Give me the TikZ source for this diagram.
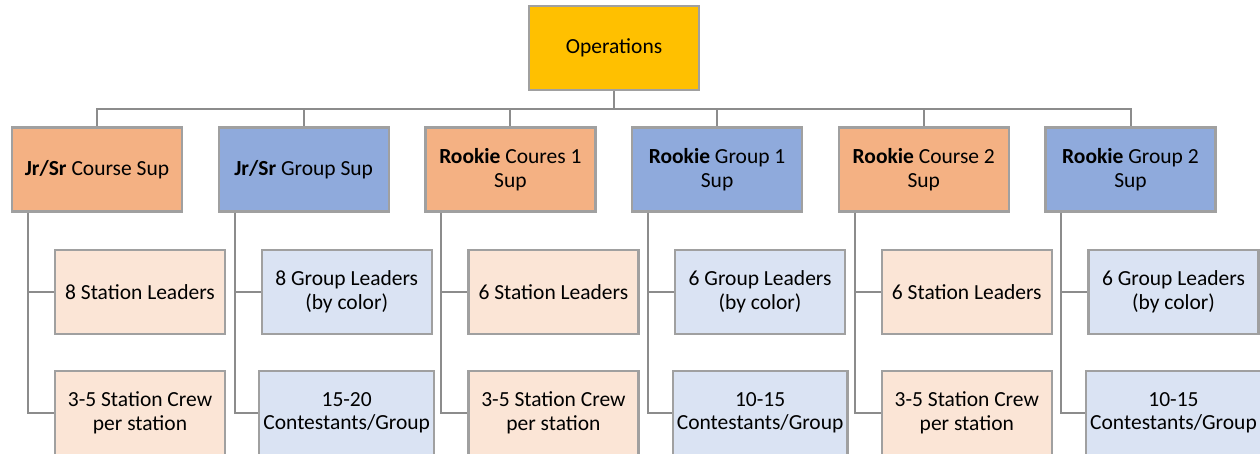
\documentclass[tikz,border=0pt]{standalone}
\usepackage{fontspec}
\setmainfont{Carlito}
\usetikzlibrary{positioning}

\definecolor{opsgold}{HTML}{FFC000}
\definecolor{courseor}{HTML}{F4B183}
\definecolor{groupbl}{HTML}{8FAADC}
\definecolor{courselt}{HTML}{FBE5D6}
\definecolor{grouplt}{HTML}{DAE3F3}
\definecolor{boxedge}{HTML}{A0A0A0}
\definecolor{linkgray}{HTML}{8C8C8C}

\begin{document}
\begin{tikzpicture}[
    font=\fontsize{10.75}{11.7}\selectfont,
    box/.style={draw=boxedge, line width=1.1pt, minimum width=85pt, minimum height=42pt,
        align=center, inner sep=2pt},
    ops/.style={box, fill=opsgold},
    coursesup/.style={box, fill=courseor},
    groupsup/.style={box, fill=groupbl},
    coursekid/.style={box, fill=courselt},
    groupkid/.style={box, fill=grouplt},
    link/.style={draw=linkgray, line width=1pt}
]
\useasboundingbox (0,0) rectangle (630pt,-227pt);

\node[ops] (op) at (307pt,-24pt) {Operations};

\node[coursesup] (s1) at (48.5pt,-84.75pt) {\textbf{Jr/Sr} Course Sup};
\node[groupsup] (s2) [right=17.25pt of s1] {\textbf{Jr/Sr} Group Sup};
\node[coursesup] (s3) [right=17.25pt of s2] {\textbf{Rookie} Coures 1\\Sup};
\node[groupsup] (s4) [right=17.25pt of s3] {\textbf{Rookie} Group 1\\Sup};
\node[coursesup] (s5) [right=17.25pt of s4] {\textbf{Rookie} Course 2\\Sup};
\node[groupsup] (s6) [right=17.25pt of s5] {\textbf{Rookie} Group 2\\Sup};

% leaders and crews under each sup
\node[coursekid] (l1) [below=18pt of s1, xshift=21.5pt] {8 Station Leaders};
\node[coursekid] (w1) [below=17.5pt of l1] {3-5 Station Crew\\per station};
\node[groupkid] (l2) [below=18pt of s2, xshift=21.5pt] {8 Group Leaders\\(by color)};
\node[groupkid] (w2) [below=17.5pt of l2] {15-20\\Contestants/Group};
\node[coursekid] (l3) [below=18pt of s3, xshift=21.5pt] {6 Station Leaders};
\node[coursekid] (w3) [below=17.5pt of l3] {3-5 Station Crew\\per station};
\node[groupkid] (l4) [below=18pt of s4, xshift=21.5pt] {6 Group Leaders\\(by color)};
\node[groupkid] (w4) [below=17.5pt of l4] {10-15\\Contestants/Group};
\node[coursekid] (l5) [below=18pt of s5, xshift=21.5pt] {6 Station Leaders};
\node[coursekid] (w5) [below=17.5pt of l5] {3-5 Station Crew\\per station};
\node[groupkid] (l6) [below=18pt of s6, xshift=21.5pt] {6 Group Leaders\\(by color)};
\node[groupkid] (w6) [below=17.5pt of l6] {10-15\\Contestants/Group};

% bus from operations
\foreach \s in {s1,s2,s3,s4,s5,s6}
    \path[link] (op.south) -- ++(0,-9pt) -| (\s.north);

\foreach \n in {1,...,6} {
    \path[link] (s\n.south west) ++(8.5pt,0) |- (l\n.west);
    \path[link] (s\n.south west) ++(8.5pt,0) |- (w\n.west);
}

\end{tikzpicture}
\end{document}
